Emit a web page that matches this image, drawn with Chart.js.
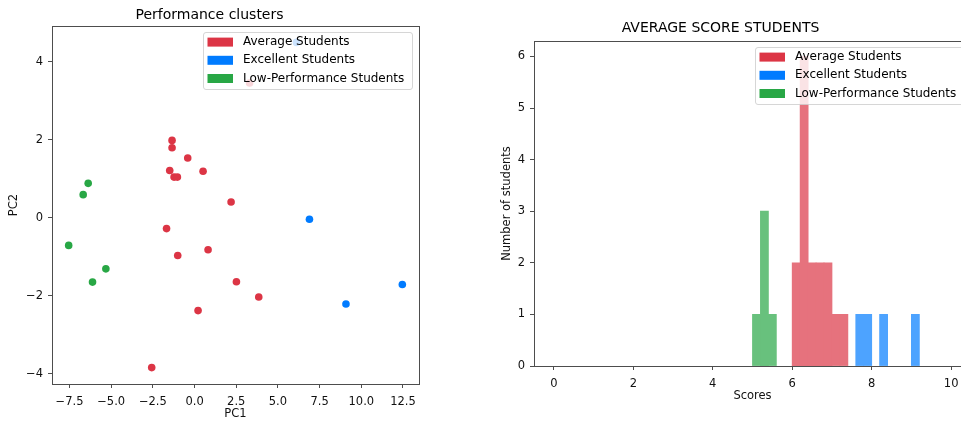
<!DOCTYPE html>
<html>
<head>
<meta charset="utf-8">
<title>Performance clusters</title>
<script src="https://cdn.jsdelivr.net/npm/chart.js@4.4.1/dist/chart.umd.min.js"></script>
<style>
    html, body { margin: 0; padding: 0; background: #fff; overflow: hidden; }
    #wrap { position: relative; width: 961px; height: 423px; overflow: hidden; }
    #left { position: absolute; left: 0; top: 0; }
    #right { position: absolute; left: 470px; top: 0; }
</style>
</head>
<body>
<div id="wrap">
    <canvas id="left" width="440" height="423"></canvas>
    <canvas id="right" width="520" height="423"></canvas>
</div>
<script>
// cluster names + colours
const groupNames = ["Average Students", "Excellent Students", "Low-Performance Students"];
const groupColors = ["#dc3545", "#007bff", "#28a745"];
// same colours at alpha 0.7 over white (opaque so neighbouring bins don't leave seams)
const barColors = ["#e6727d", "#4da3ff", "#68c17d"];

// scatter (PCA) values
const averagePC1 = [-1.35, -1.35, -0.41, -1.49, -1.23, -1.03, 0.51, 2.19, 3.3, -1.68, 0.81, -1.01, 2.51, 3.85, 0.21, -2.57];
const averagePC2 = [1.98, 1.79, 1.53, 1.21, 1.04, 1.04, 1.19, 0.40, 3.45, -0.28, -0.82, -0.97, -1.64, -2.03, -2.38, -3.84];
const excellentPC1 = [6.89, 9.08, 12.46, 6.11];
const excellentPC2 = [-0.04, -2.21, -1.71, 4.49];
const lowPC1 = [-6.38, -6.68, -7.55, -5.32, -6.12];
const lowPC2 = [0.88, 0.59, -0.71, -1.31, -1.65];

// histogram: left edge of each bin (width 0.2) and count
const binWidth = 0.2;
const averageBins = [6.0, 6.2, 6.4, 6.6, 6.8, 7.0, 7.2];
const averageCounts = [2, 6, 2, 2, 2, 1, 1];
const excellentBins = [7.6, 7.8, 8.2, 9.0];
const excellentCounts = [1, 1, 1, 1];
const lowBins = [5.0, 5.2, 5.4];
const lowCounts = [1, 3, 1];

// tick labels
const pc1Ticks = [-7.5, -5, -2.5, 0, 2.5, 5, 7.5, 10, 12.5];
const pc2Ticks = [-4, -2, 0, 2, 4];
const scoreTicks = [0, 2, 4, 6, 8, 10];
const countTicks = [0, 1, 2, 3, 4, 5, 6];

Chart.defaults.font.family = "'DejaVu Sans', sans-serif";
Chart.defaults.color = "#111";
Chart.defaults.animation = false;

const spine = "#4d4d4d";

function toPoints(xs, ys) {
    return xs.map((x, i) => ({ x: x, y: ys[i] }));
}

function toBars(bins, counts) {
    return bins.map((b, i) => ({ x: b + binWidth / 2, y: counts[i] }));
}

function minus(v) {
    return String(v).replace("-", "\u2212");
}

// box around the plot + matplotlib style legend in the upper right corner
const frameLegend = {
    id: 'frameLegend',
    afterDatasetsDraw(chart) {
        const { ctx, chartArea } = chart;
        ctx.save();
        ctx.strokeStyle = spine;
        ctx.lineWidth = 1;
        const l = Math.round(chartArea.left) + 0.5, t = Math.round(chartArea.top) + 0.5;
        const r = Math.round(chartArea.right) + 0.5, b = Math.round(chartArea.bottom) + 0.5;
        ctx.strokeRect(l, t, r - l, b - t);

        const w = 209, h = 57;
        const x = chartArea.right - 6.5 - w, y = chartArea.top + 6.5;
        ctx.beginPath();
        ctx.roundRect(x, y, w, h, 2.5);
        ctx.fillStyle = "rgba(255,255,255,0.8)";
        ctx.fill();
        ctx.strokeStyle = "rgba(204,204,204,0.8)";
        ctx.stroke();

        ctx.font = "12px 'DejaVu Sans'";
        ctx.textBaseline = "middle";
        groupNames.forEach((name, i) => {
            const cy = y + 9.6 + i * 18.2;
            ctx.fillStyle = groupColors[i];
            ctx.fillRect(x + 4, cy - 4.5, 25.5, 9);
            ctx.fillStyle = "#000";
            ctx.fillText(name, x + 39.5, cy);
        });
        ctx.restore();
    }
};

const tickFont = { size: 11.5 };
const labelFont = { size: 11.5 };

new Chart(document.getElementById('left').getContext('2d'), {
    type: 'scatter',
    data: {
        datasets: [
            { label: groupNames[0], data: toPoints(averagePC1, averagePC2), backgroundColor: groupColors[0] },
            { label: groupNames[1], data: toPoints(excellentPC1, excellentPC2), backgroundColor: groupColors[1] },
            { label: groupNames[2], data: toPoints(lowPC1, lowPC2), backgroundColor: groupColors[2] }
        ]
    },
    options: {
        responsive: false,
        layout: { padding: { left: 0, top: 0, right: 21, bottom: 0 } },
        elements: { point: { radius: 3.8, borderWidth: 0, hoverRadius: 3.8 } },
        plugins: {
            legend: { display: false },
            tooltip: { enabled: false },
            title: {
                display: true,
                text: 'Performance clusters',
                color: '#000',
                font: { size: 14, weight: 'normal' },
                padding: { top: 7.4, bottom: 1.8 }
            }
        },
        scales: {
            x: {
                type: 'linear',
                bounds: 'data',
                min: -8.55,
                max: 13.46,
                afterBuildTicks: (axis) => { axis.ticks = pc1Ticks.map(v => ({ value: v })); },
                afterFit: (axis) => { axis.height = 39; },
                ticks: { font: tickFont, padding: 7, autoSkip: false, maxRotation: 0,
                    callback: (v) => minus(v.toFixed(1)) },
                grid: { drawOnChartArea: false, tickLength: 4, color: spine },
                border: { display: false },
                title: { display: true, text: 'PC1', font: labelFont, padding: { top: 0, bottom: 1.8 } }
            },
            y: {
                type: 'linear',
                bounds: 'data',
                min: -4.26,
                max: 4.91,
                afterBuildTicks: (axis) => { axis.ticks = pc2Ticks.map(v => ({ value: v })); },
                afterFit: (axis) => { axis.width = 52; },
                ticks: { font: tickFont, padding: 5, autoSkip: false, callback: (v) => minus(v) },
                grid: { drawOnChartArea: false, tickLength: 4, color: spine },
                border: { display: false },
                title: { display: true, text: 'PC2', font: labelFont, padding: { top: 7.2, bottom: 0 } }
            }
        }
    },
    plugins: [frameLegend]
});

new Chart(document.getElementById('right').getContext('2d'), {
    type: 'bar',
    data: {
        datasets: [
            { label: groupNames[0], data: toBars(averageBins, averageCounts), backgroundColor: barColors[0] },
            { label: groupNames[1], data: toBars(excellentBins, excellentCounts), backgroundColor: barColors[1] },
            { label: groupNames[2], data: toBars(lowBins, lowCounts), backgroundColor: barColors[2] }
        ]
    },
    options: {
        responsive: false,
        grouped: false,
        barPercentage: 1,
        categoryPercentage: 1,
        elements: { bar: { borderWidth: 0, inflateAmount: 0.4 } },
        layout: { padding: { left: 0, top: 0, right: 19, bottom: 0 } },
        plugins: {
            legend: { display: false },
            tooltip: { enabled: false },
            title: {
                display: true,
                text: 'AVERAGE SCORE STUDENTS',
                color: '#000',
                font: { size: 14, weight: 'normal' },
                padding: { top: 19.8, bottom: 4.4 }
            }
        },
        scales: {
            x: {
                type: 'linear',
                bounds: 'data',
                min: -0.5,
                max: 10.5,
                offset: false,
                afterBuildTicks: (axis) => { axis.ticks = scoreTicks.map(v => ({ value: v })); },
                afterFit: (axis) => { axis.height = 57; },
                ticks: { font: tickFont, padding: 7, autoSkip: false, maxRotation: 0 },
                grid: { drawOnChartArea: false, tickLength: 4, color: spine, offset: false },
                border: { display: false },
                title: { display: true, text: 'Scores', font: labelFont, padding: { top: 0, bottom: 20.4 } }
            },
            y: {
                type: 'linear',
                bounds: 'data',
                min: 0,
                max: 6.3,
                afterBuildTicks: (axis) => { axis.ticks = countTicks.map(v => ({ value: v })); },
                afterFit: (axis) => { axis.width = 64; },
                ticks: { font: tickFont, padding: 5, autoSkip: false },
                grid: { drawOnChartArea: false, tickLength: 4, color: spine },
                border: { display: false },
                title: { display: true, text: 'Number of students', font: labelFont, padding: { top: 30.5, bottom: 0 } }
            }
        }
    },
    plugins: [frameLegend]
});
</script>
</body>
</html>
